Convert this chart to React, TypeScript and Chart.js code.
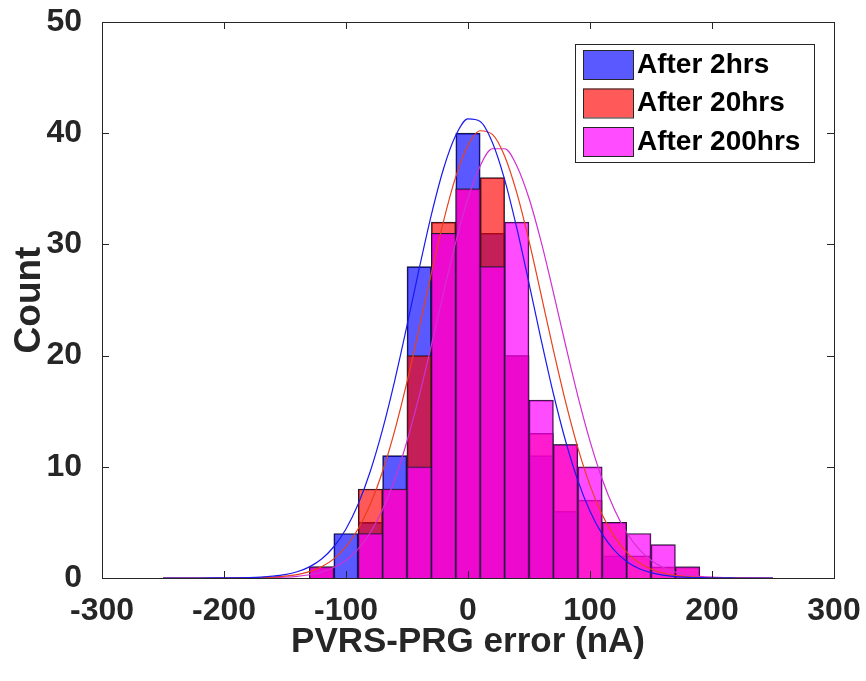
import React, { useEffect, useRef } from "react";
import { Chart, registerables } from "chart.js";

Chart.register(...registerables);

// Histogram bins (centres, nA), bin width 20
const BIN_CENTERS = [-120, -100, -80, -60, -40, -20, 0, 20, 40, 60, 80, 100, 120, 140, 160, 180];
const COUNTS_2H = [1, 4, 5, 11, 28, 31, 40, 31, 20, 11, 6, 0, 2, 0, 0, 0];
const COUNTS_20H = [1, 0, 8, 8, 20, 32, 35, 36, 20, 13, 12, 7, 5, 2, 1, 1];
const COUNTS_200H = [1, 0, 4, 8, 10, 31, 35, 28, 32, 16, 12, 10, 5, 4, 3, 1];

// Fitted curves (x from -250 to 250, step 10)
const CURVE_X = [
  -250, -240, -230, -220, -210, -200, -190, -180, -170, -160, -150, -140, -130, -120, -110, -100,
  -90, -80, -70, -60, -50, -40, -30, -20, -10, 0, 10, 20, 30, 40, 50, 60, 70, 80, 90, 100,
  110, 120, 130, 140, 150, 160, 170, 180, 190, 200, 210, 220, 230, 240, 250,
];
const FIT_2H = [
  0, 0, 0, 0.001, 0.003, 0.007, 0.017, 0.037, 0.077, 0.16, 0.3, 0.56, 1.0, 1.71, 2.81, 4.41,
  6.65, 9.62, 13.36, 17.78, 22.71, 27.82, 32.68, 36.83, 39.81, 41.28, 41.06, 39.17, 35.85, 31.46, 26.5, 21.4, 16.57, 12.32, 8.78, 6.0,
  3.94, 2.48, 1.49, 0.86, 0.48, 0.26, 0.13, 0.064, 0.03, 0.014, 0.006, 0.002, 0.001, 0, 0,
];
const FIT_20H = [
  0, 0, 0, 0.001, 0.001, 0.003, 0.008, 0.017, 0.038, 0.079, 0.16, 0.31, 0.57, 1.01, 1.72, 2.82,
  4.43, 6.65, 9.6, 13.28, 17.64, 22.45, 27.42, 32.12, 36.1, 38.91, 40.22, 39.89, 37.95, 34.63, 30.31, 25.44, 20.49, 15.83, 11.72, 8.33,
  5.68, 3.72, 2.33, 1.4, 0.81, 0.45, 0.24, 0.12, 0.059, 0.028, 0.012, 0.005, 0.002, 0.001, 0,
];
const FIT_200H = [
  0, 0, 0, 0, 0.001, 0.001, 0.003, 0.007, 0.017, 0.036, 0.075, 0.15, 0.29, 0.53, 0.94, 1.6,
  2.61, 4.09, 6.15, 8.88, 12.31, 16.38, 20.93, 25.67, 30.22, 34.15, 37.06, 38.6, 38.6, 37.06, 34.15, 30.22, 25.67, 20.93, 16.38, 12.31,
  8.88, 6.15, 4.09, 2.61, 1.6, 0.94, 0.53, 0.29, 0.15, 0.075, 0.036, 0.017, 0.007, 0.003, 0.001,
];

const LABELS = ["After 2hrs", "After 20hrs", "After 200hrs"];
const X_TICKS = [-300, -200, -100, 0, 100, 200, 300];
const Y_TICKS = [0, 10, 20, 30, 40, 50];

const FILL = ["rgba(0,0,255,0.65)", "rgba(255,0,0,0.65)", "rgba(255,0,255,0.7)"];
const LINE = ["#1a1aee", "#e8401c", "#d030d0"];
const FONT = "'Liberation Sans', Arial, Helvetica, sans-serif";

const boxPlugin = {
  id: "matlabBox",
  afterDatasetsDraw(chart: any) {
    const { ctx, chartArea: a, scales } = chart;
    ctx.save();
    ctx.strokeStyle = "#262626";
    ctx.lineWidth = 1;
    ctx.strokeRect(a.left + 0.5, a.top + 0.5, a.right - a.left, a.bottom - a.top);
    const tl = 7;
    ctx.beginPath();
    for (const v of X_TICKS) {
      const px = Math.round(scales.x.getPixelForValue(v)) + 0.5;
      ctx.moveTo(px, a.bottom);
      ctx.lineTo(px, a.bottom - tl);
      ctx.moveTo(px, a.top);
      ctx.lineTo(px, a.top + tl);
    }
    for (const v of Y_TICKS) {
      const py = Math.round(scales.y.getPixelForValue(v)) + 0.5;
      ctx.moveTo(a.left, py);
      ctx.lineTo(a.left + tl, py);
      ctx.moveTo(a.right, py);
      ctx.lineTo(a.right - tl, py);
    }
    ctx.stroke();
    ctx.restore();
  },
  afterDraw(chart: any) {
    const { ctx } = chart;
    const x0 = 575, y0 = 44, w = 239, h = 118;
    ctx.save();
    ctx.fillStyle = "#ffffff";
    ctx.fillRect(x0, y0, w, h);
    ctx.strokeStyle = "#262626";
    ctx.lineWidth = 1;
    ctx.strokeRect(x0 + 0.5, y0 + 0.5, w, h);
    ctx.font = `bold 28px ${FONT}`;
    ctx.textBaseline = "middle";
    for (let i = 0; i < 3; i++) {
      const sy = 50 + i * 38.5;
      ctx.fillStyle = FILL[i];
      ctx.fillRect(583, sy, 50, 29);
      ctx.strokeStyle = "#262626";
      ctx.strokeRect(583.5, sy + 0.5, 50, 29);
      ctx.fillStyle = "#000000";
      ctx.fillText(LABELS[i], 637, sy + 15);
    }
    ctx.restore();
  },
};

const noPad = (s: any) => {
  s.paddingTop = 0;
  s.paddingBottom = 0;
  s.paddingLeft = 0;
  s.paddingRight = 0;
};

export default function App() {
  const ref = useRef<HTMLCanvasElement | null>(null);
  useEffect(() => {
    document.body.style.margin = "0";
    const counts = [COUNTS_2H, COUNTS_20H, COUNTS_200H];
    const fits = [FIT_2H, FIT_20H, FIT_200H];
    const barSets = counts.map((c, i) => ({
      type: "bar",
      label: LABELS[i],
      data: BIN_CENTERS.map((x, j) => ({ x, y: c[j] === 0 ? null : c[j] })),
      backgroundColor: FILL[i],
      borderColor: "#1c1c2a",
      borderWidth: 1,
      grouped: false,
      barPercentage: 1,
      categoryPercentage: 1,
      order: 3 - i,
    }));
    const lineSets = fits.map((f, i) => ({
      type: "line",
      label: LABELS[i] + " fit",
      data: CURVE_X.map((x, j) => ({ x, y: f[j] })),
      borderColor: LINE[i],
      borderWidth: 1.2,
      pointRadius: 0,
      fill: false,
      cubicInterpolationMode: "monotone",
      order: 0,
    }));
    const chart = new Chart(ref.current as HTMLCanvasElement, {
      type: "bar",
      data: { datasets: [...barSets, ...lineSets] as any },
      options: {
        animation: false,
        responsive: false,
        layout: { padding: { top: 22, right: 32, left: 8, bottom: 18 } },
        plugins: { legend: { display: false }, tooltip: { enabled: false } },
        scales: {
          x: {
            type: "linear",
            offset: false,
            min: -300,
            max: 300,
            afterFit: (s: any) => { s.height = 85; noPad(s); },
            afterBuildTicks: (s: any) => { s.ticks = X_TICKS.map((v) => ({ value: v })); },
            grid: { display: false, offset: false },
            border: { display: false },
            ticks: { color: "#262626", padding: 6, font: { family: FONT, size: 32, weight: "bold" } },
            title: {
              display: true,
              text: "PVRS-PRG error (nA)",
              color: "#262626",
              padding: { top: 0, bottom: 0 },
              font: { family: FONT, size: 35, weight: "bold" },
            },
          },
          y: {
            type: "linear",
            min: 0,
            max: 50,
            afterFit: (s: any) => { s.width = 94; noPad(s); },
            afterBuildTicks: (s: any) => { s.ticks = Y_TICKS.map((v) => ({ value: v })); },
            grid: { display: false },
            border: { display: false },
            ticks: { color: "#262626", padding: 12, font: { family: FONT, size: 32, weight: "bold" } },
            title: {
              display: true,
              text: "Count",
              color: "#262626",
              padding: { top: 0, bottom: 2 },
              font: { family: FONT, size: 37, weight: "bold" },
            },
          },
        },
      },
      plugins: [boxPlugin],
    } as any);
    return () => chart.destroy();
  }, []);
  return <canvas ref={ref} width={866} height={681} style={{ display: "block" }} />;
}
